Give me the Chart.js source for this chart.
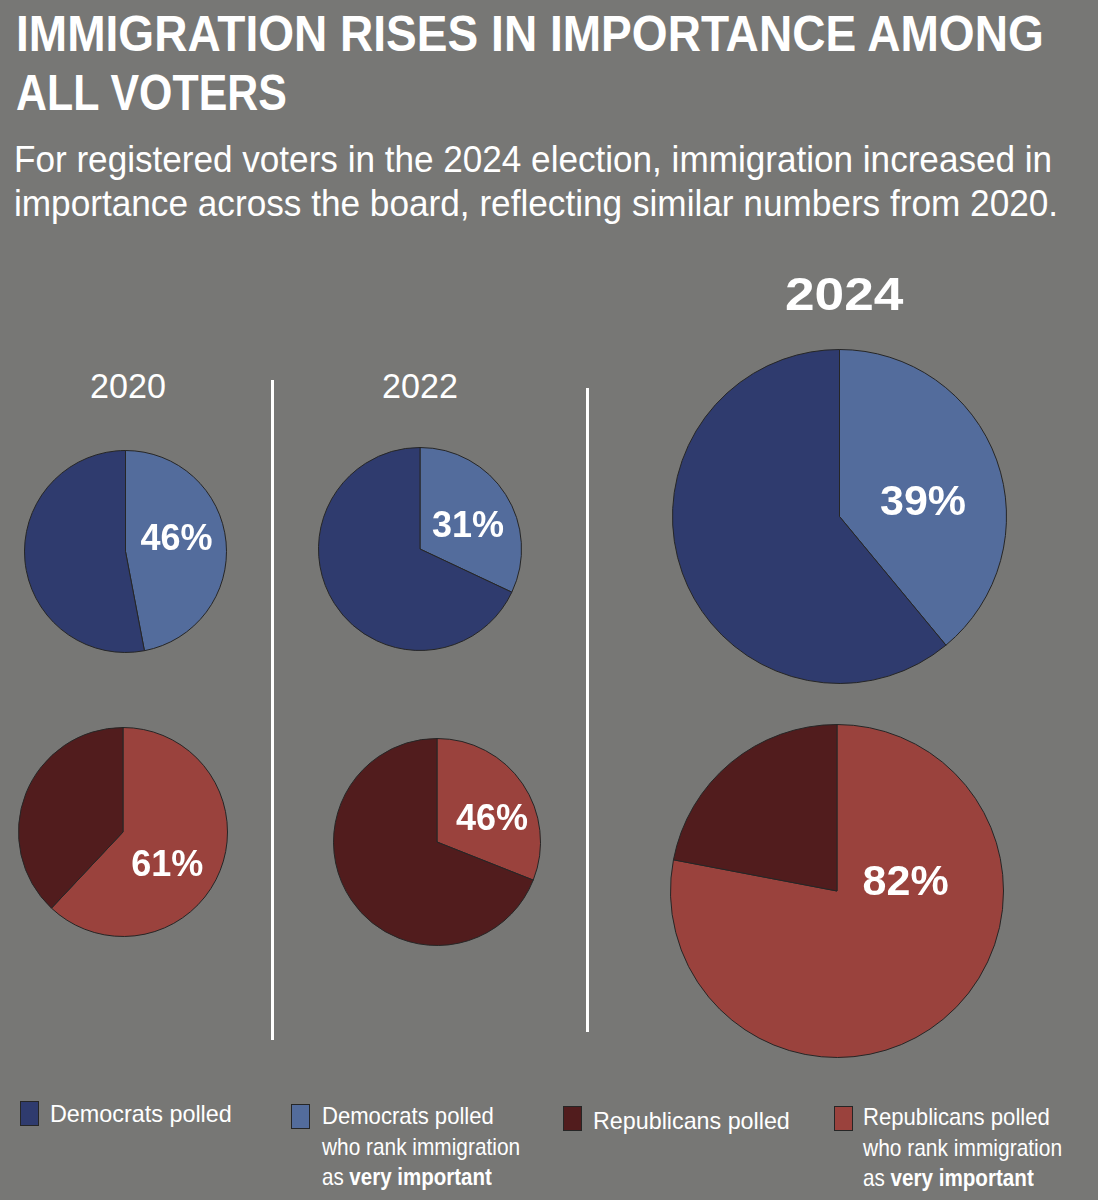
<!DOCTYPE html>
<html>
<head>
<meta charset="utf-8">
<script src="https://cdn.jsdelivr.net/npm/chart.js@4/dist/chart.umd.min.js"></script>
<style>
  html,body{margin:0;padding:0;}
  body{width:1098px;height:1200px;background:#777775;position:relative;overflow:hidden;font-family:"Liberation Sans",Arial,sans-serif;color:#fff;}
  .t{position:absolute;white-space:nowrap;transform-origin:0 0;line-height:1;}
  .pie{position:absolute;}
  .vline{position:absolute;width:3px;background:#fff;}
  .sw{position:absolute;width:17px;height:23px;border:1.5px solid #262626;}
</style>
</head>
<body>
<script>
// ---------------- DATA ----------------
const years = ['2020', '2022', '2024'];
// share of the pie drawn as "rank immigration as very important"
const demImportant = [47, 32, 39];
const repImportant = [62, 31, 78];
// printed labels
const demLabels = ['46%', '31%', '39%'];
const repLabels = ['61%', '46%', '82%'];
const legendLabels = [
  ['Democrats polled'],
  ['Democrats polled', 'who rank immigration', 'as <b>very important</b>'],
  ['Republicans polled'],
  ['Republicans polled', 'who rank immigration', 'as <b>very important</b>']
];
const titleLines = ['IMMIGRATION RISES IN IMPORTANCE AMONG', 'ALL VOTERS'];
const subtitleLines = [
  'For registered voters in the 2024 election, immigration increased in',
  'importance across the board, reflecting similar numbers from 2020.'
];

// ---------------- STYLE / LAYOUT ----------------
const COLORS = {
  demDark: '#2f3b6e', demLight: '#536c9c',
  repDark: '#511c1d', repLight: '#9a423d',
  border: '#262626'
};
const demLayout = [
  {cx: 125.5, cy: 551, r: 100.5, fx: 0.505, fy: -0.146, fs: 36},
  {cx: 419.8, cy: 549.2, r: 100.8, fx: 0.473, fy: -0.25, fs: 36},
  {cx: 839, cy: 516.7, r: 166.7, fx: 0.50, fy: -0.10, fs: 43}
];
const repLayout = [
  {cx: 122.8, cy: 832.2, r: 103.8, fx: 0.423, fy: 0.297, fs: 36},
  {cx: 437, cy: 842.3, r: 103, fx: 0.531, fy: -0.244, fs: 36},
  {cx: 836.5, cy: 890.8, r: 165.8, fx: 0.412, fy: -0.071, fs: 43}
];

// ---------------- TEXT HELPERS ----------------
function placeText(html, o) {
  const el = document.createElement('div');
  el.className = 't';
  el.innerHTML = html;
  el.style.fontSize = o.size + 'px';
  el.style.fontWeight = o.weight || 'normal';
  el.style.fontFamily = o.family || '"Liberation Sans", Arial, sans-serif';
  document.body.appendChild(el);
  const natural = el.offsetWidth;
  const scale = o.width ? o.width / natural : 1;
  const w = natural * scale;
  let left = o.x;
  if (o.anchor === 'center') left = o.x - w / 2;
  el.style.left = left + 'px';
  el.style.top = (o.baseline - 0.8465 * o.size) + 'px';
  el.style.transform = 'scaleX(' + scale + ')';
  return el;
}

// Title
placeText(titleLines[0], {x: 16, baseline: 51, size: 50, weight: 'bold', width: 1028});
placeText(titleLines[1], {x: 16, baseline: 110, size: 50, weight: 'bold', width: 271});
// Subtitle
placeText(subtitleLines[0], {x: 14, baseline: 172, size: 37, width: 1038});
placeText(subtitleLines[1], {x: 14, baseline: 216, size: 37, width: 1044});

// Year headers
placeText(years[0], {x: 128, baseline: 398, size: 35, anchor: 'center', width: 76});
placeText(years[1], {x: 420, baseline: 398, size: 35, anchor: 'center', width: 76});
placeText(years[2], {x: 844, baseline: 310, size: 46, weight: 'bold', anchor: 'center', width: 118});

// Divider lines
[[271, 380, 1040], [586, 388, 1032]].forEach(([x, y1, y2]) => {
  const d = document.createElement('div');
  d.className = 'vline';
  d.style.left = x + 'px'; d.style.top = y1 + 'px'; d.style.height = (y2 - y1) + 'px';
  document.body.appendChild(d);
});

// Legend
const legendColors = [COLORS.demDark, COLORS.demLight, COLORS.repDark, COLORS.repLight];
const legendLayout = [
  {sx: 20, sy: 1101, tx: 50, baselines: [1122], widths: [182]},
  {sx: 291, sy: 1104, tx: 322, baselines: [1124, 1155, 1185], widths: [172, 198, 170]},
  {sx: 563, sy: 1106, tx: 593, baselines: [1129], widths: [197]},
  {sx: 834, sy: 1106, tx: 863, baselines: [1125, 1156, 1186], widths: [187, 199, 171]}
];
legendLabels.forEach((lines, i) => {
  const L = legendLayout[i];
  const sw = document.createElement('div');
  sw.className = 'sw';
  sw.style.left = L.sx + 'px'; sw.style.top = L.sy + 'px';
  sw.style.background = legendColors[i];
  document.body.appendChild(sw);
  lines.forEach((ln, j) => {
    placeText(ln, {x: L.tx, baseline: L.baselines[j], size: 24, width: L.widths[j]});
  });
});

// ---------------- PIES ----------------
const pctLabel = {
  id: 'pctLabel',
  afterDatasetsDraw(chart, args, opts) {
    const arc = chart.getDatasetMeta(0).data[0];
    const p = arc.getProps(['x', 'y', 'outerRadius'], true);
    const ctx = chart.ctx;
    ctx.save();
    ctx.font = 'bold ' + opts.size + 'px "Liberation Sans", Arial, sans-serif';
    ctx.fillStyle = '#ffffff';
    ctx.textAlign = 'center';
    ctx.textBaseline = 'alphabetic';
    ctx.fillText(opts.text, p.x + opts.fx * p.outerRadius, p.y + opts.fy * p.outerRadius + 0.36 * opts.size);
    ctx.restore();
  }
};

function makePie(value, label, lay, light, dark) {
  const size = Math.round(2 * lay.r + 2);
  const c = document.createElement('canvas');
  c.className = 'pie';
  c.width = size; c.height = size;
  c.style.width = size + 'px'; c.style.height = size + 'px';
  c.style.left = (lay.cx - size / 2) + 'px';
  c.style.top = (lay.cy - size / 2) + 'px';
  document.body.appendChild(c);
  new Chart(c, {
    type: 'pie',
    data: {
      labels: ['very important', 'other'],
      datasets: [{
        data: [value, 100 - value],
        backgroundColor: [light, dark],
        borderColor: COLORS.border,
        borderWidth: 1
      }]
    },
    options: {
      responsive: false,
      animation: false,
      events: [],
      layout: {padding: 0},
      plugins: {
        legend: {display: false},
        tooltip: {enabled: false},
        pctLabel: {text: label, fx: lay.fx, fy: lay.fy, size: lay.fs}
      }
    },
    plugins: [pctLabel]
  });
}

years.forEach((y, i) => {
  makePie(demImportant[i], demLabels[i], demLayout[i], COLORS.demLight, COLORS.demDark);
  makePie(repImportant[i], repLabels[i], repLayout[i], COLORS.repLight, COLORS.repDark);
});
</script>
</body>
</html>
